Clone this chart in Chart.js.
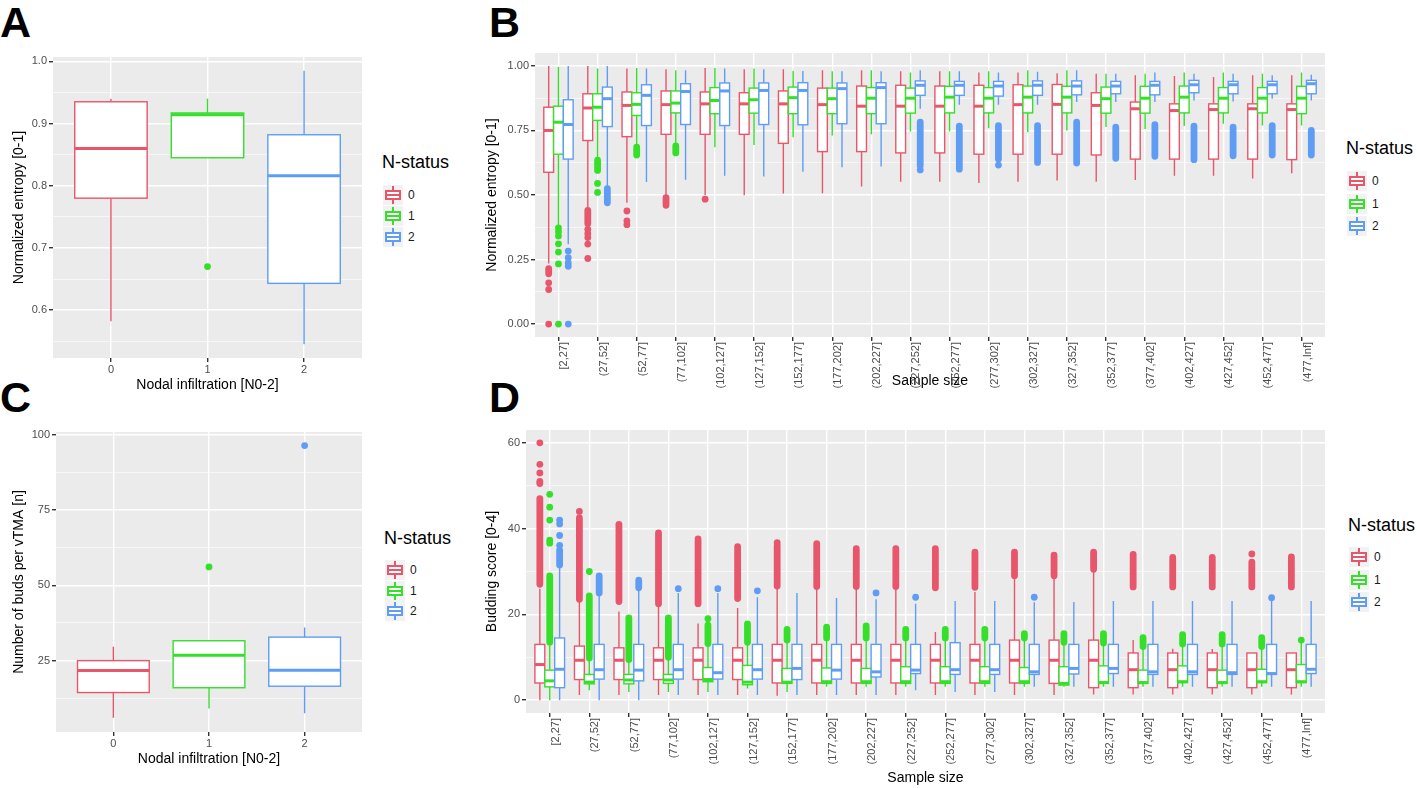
<!DOCTYPE html>
<html>
<head>
<meta charset="utf-8">
<script src="https://cdn.jsdelivr.net/npm/chart.js@4.4.1/dist/chart.umd.min.js"></script>
<style>
  html, body { margin: 0; padding: 0; background: #fff; }
  body { width: 1417px; height: 788px; position: relative; overflow: hidden; font-family: "Liberation Sans", Arial, sans-serif; }
  canvas { position: absolute; }
  .tag { position: absolute; font-weight: bold; font-size: 43px; line-height: 1; color: #000; }
  .ltitle { position: absolute; font-size: 18px; line-height: 22px; color: #000; white-space: nowrap; }
  .ltext { position: absolute; font-size: 12px; line-height: 20px; color: #1a1a1a; }
  .key { position: absolute; width: 20px; height: 20px; background: #F2F2F2; }
  .key .w { position: absolute; left: 9px; width: 2px; top: 1px; bottom: 1px; }
  .key .b { position: absolute; left: 2px; right: 2px; top: 5px; bottom: 5px; border: 2px solid; background: #fff; box-sizing: border-box; }
  .key .m { position: absolute; left: 2px; right: 2px; top: 9px; height: 2px; }
</style>
</head>
<body>
<div class="tag" style="left:0px;top:1px">A</div>
<div class="tag" style="left:489px;top:1px">B</div>
<div class="tag" style="left:0px;top:376px">C</div>
<div class="tag" style="left:489px;top:376px">D</div>

<canvas id="chartA" width="375" height="360" style="left:0px;top:40px"></canvas>
<canvas id="chartB" width="870" height="360" style="left:470px;top:40px"></canvas>
<canvas id="chartC" width="375" height="365" style="left:0px;top:420px"></canvas>
<canvas id="chartD" width="870" height="368" style="left:470px;top:420px"></canvas>

<script>
// ---- categories / groups
const statusLabels = ['0', '1', '2'];
const statusColors = ['#E8566C', '#35DF2A', '#5F9DF5'];
const nodalLabels = ['0', '1', '2'];
const sizeLabels = ['[2,27]', '(27,52]', '(52,77]', '(77,102]', '(102,127]', '(127,152]', '(152,177]',
  '(177,202]', '(202,227]', '(227,252]', '(252,277]', '(277,302]', '(302,327]', '(327,352]',
  '(352,377]', '(377,402]', '(402,427]', '(427,452]', '(452,477]', '(477,Inf]'];

// ---- tick labels
const entropyTicksA = [0.6, 0.7, 0.8, 0.9, 1.0];
const entropyTicksB = [0, 0.25, 0.5, 0.75, 1];
const budTicksC = [25, 50, 75, 100];
const scoreTicksD = [0, 20, 40, 60];

// box stats are [lower whisker, q1, median, q3, upper whisker]

// A: normalized entropy by nodal infiltration (one box per N-status)
const entropyNodal = [
  [0.582, 0.780, 0.860, 0.935, 0.940],
  [0.845, 0.845, 0.914, 0.917, 0.940],
  [0.545, 0.643, 0.816, 0.882, 0.985]
];
const entropyNodalOut = [[], [0.670], []];

// C: buds per vTMA by nodal infiltration
const budsNodal = [
  [6.0, 14.4, 21.7, 25.0, 29.6],
  [9.1, 16.0, 26.8, 31.6, 31.6],
  [7.5, 16.5, 21.8, 32.8, 36.0]
];
const budsNodalOut = [[], [56.1], [96.4]];

// B: normalized entropy by sample size, N-status 0 / 1 / 2
const entropySize0 = [
  [0.235, 0.588, 0.750, 0.840, 1.000], [0.445, 0.711, 0.837, 0.892, 1.000],
  [0.470, 0.726, 0.847, 0.899, 0.990], [0.497, 0.735, 0.850, 0.903, 0.987],
  [0.500, 0.735, 0.853, 0.899, 0.992], [0.499, 0.735, 0.853, 0.896, 0.987],
  [0.506, 0.700, 0.853, 0.903, 0.987], [0.507, 0.668, 0.850, 0.914, 0.983],
  [0.533, 0.668, 0.844, 0.922, 0.983], [0.551, 0.663, 0.844, 0.925, 0.979],
  [0.551, 0.663, 0.844, 0.922, 0.979], [0.546, 0.658, 0.844, 0.925, 0.974],
  [0.551, 0.658, 0.850, 0.927, 0.974], [0.556, 0.658, 0.851, 0.928, 0.972],
  [0.551, 0.655, 0.847, 0.896, 0.970], [0.558, 0.639, 0.834, 0.860, 0.964],
  [0.575, 0.639, 0.827, 0.853, 0.961], [0.575, 0.639, 0.831, 0.853, 0.957],
  [0.564, 0.639, 0.834, 0.853, 0.964], [0.584, 0.637, 0.831, 0.853, 0.964]
];
const entropySize1 = [
  [0.380, 0.658, 0.782, 0.844, 0.996], [0.640, 0.789, 0.840, 0.892, 0.990],
  [0.690, 0.808, 0.851, 0.896, 0.992], [0.698, 0.818, 0.856, 0.903, 0.983],
  [0.685, 0.815, 0.866, 0.916, 0.992], [0.694, 0.817, 0.869, 0.914, 0.990],
  [0.724, 0.815, 0.877, 0.918, 0.980], [0.730, 0.815, 0.873, 0.914, 0.979],
  [0.735, 0.815, 0.875, 0.916, 0.983], [0.746, 0.817, 0.875, 0.914, 0.974],
  [0.746, 0.818, 0.879, 0.921, 0.979], [0.759, 0.818, 0.875, 0.916, 0.979],
  [0.743, 0.818, 0.879, 0.922, 0.983], [0.750, 0.818, 0.879, 0.921, 0.983],
  [0.763, 0.817, 0.873, 0.918, 0.970], [0.756, 0.817, 0.875, 0.921, 0.970],
  [0.767, 0.818, 0.879, 0.922, 0.974], [0.776, 0.818, 0.875, 0.916, 0.974],
  [0.769, 0.818, 0.875, 0.916, 0.970], [0.769, 0.815, 0.875, 0.921, 0.974]
];
const entropySize2 = [
  [0.309, 0.639, 0.773, 0.869, 1.000], [0.535, 0.765, 0.873, 0.918, 1.000],
  [0.550, 0.769, 0.886, 0.927, 0.990], [0.559, 0.773, 0.901, 0.931, 0.983],
  [0.575, 0.769, 0.903, 0.934, 0.990], [0.572, 0.773, 0.905, 0.934, 0.987],
  [0.590, 0.772, 0.905, 0.935, 0.980], [0.607, 0.776, 0.912, 0.934, 0.979],
  [0.610, 0.776, 0.916, 0.935, 0.979], [0.834, 0.886, 0.925, 0.942, 0.983],
  [0.850, 0.886, 0.925, 0.940, 0.979], [0.850, 0.883, 0.922, 0.940, 0.974],
  [0.850, 0.886, 0.925, 0.942, 0.977], [0.860, 0.888, 0.922, 0.942, 0.983],
  [0.860, 0.892, 0.922, 0.940, 0.970], [0.860, 0.888, 0.925, 0.940, 0.974],
  [0.866, 0.896, 0.927, 0.944, 0.970], [0.862, 0.892, 0.927, 0.940, 0.970],
  [0.873, 0.892, 0.927, 0.940, 0.964], [0.866, 0.892, 0.931, 0.944, 0.966]
];
// single outliers per size bin
const entropyOut0 = [[0.160, 0.134, 0.0], [0.367, 0.350, 0.335, 0.310, 0.254], [0.438, 0.400, 0.385], [], [0.484],
  [], [], [], [], [], [], [], [], [], [], [], [], [], [], []];
const entropyOut1 = [[0.373, 0.358, 0.341, 0.311, 0.279, 0.233, 0.0], [0.545, 0.510], [], [], [],
  [], [], [], [], [], [], [], [], [], [], [], [], [], [], []];
const entropyOut2 = [[0.283, 0.257, 0.237, 0.224, 0.0], [], [], [], [], [], [], [], [], [0.597],
  [], [0.616], [], [], [], [], [], [], [], []];
// dense runs of outliers [from, to] per size bin
const entropyRun0 = [[0.195, 0.215], [0.390, 0.440], null, [0.460, 0.490], null, null, null, null, null, null,
  null, null, null, null, null, null, null, null, null, null];
const entropyRun1 = [null, [0.595, 0.635], [0.655, 0.685], [0.663, 0.690], null, null, null, null, null, null,
  null, null, null, null, null, null, null, null, null, null];
const entropyRun2 = [null, [0.470, 0.525], null, null, null, null, null, null, null, [0.613, 0.782],
  [0.600, 0.767], [0.639, 0.769], [0.626, 0.769], [0.624, 0.782], [0.642, 0.763], [0.650, 0.772],
  [0.637, 0.767], [0.652, 0.763], [0.655, 0.769], [0.655, 0.750]];

// D: budding score by sample size, N-status 0 / 1 / 2
const scoreSize0 = [
  [0.0, 4.0, 8.3, 13.0, 26.0], [1.2, 4.8, 9.3, 12.6, 23.3], [1.2, 4.8, 9.3, 12.2, 20.7],
  [1.2, 4.8, 9.3, 12.2, 22.1], [1.2, 4.8, 9.3, 12.2, 17.9], [1.2, 4.8, 9.3, 12.2, 21.5],
  [1.0, 4.0, 9.3, 13.0, 26.4], [1.2, 4.0, 9.3, 13.0, 26.4], [1.2, 4.0, 9.3, 13.0, 26.4],
  [1.2, 4.0, 9.3, 13.0, 26.4], [1.2, 4.0, 9.3, 13.0, 15.9], [1.2, 4.0, 9.3, 13.0, 25.2],
  [1.2, 4.0, 9.3, 14.0, 28.7], [1.2, 3.9, 9.3, 14.0, 28.7], [1.3, 2.9, 9.3, 14.0, 30.3],
  [1.3, 2.9, 7.1, 11.0, 14.0], [1.3, 2.9, 7.1, 11.0, 12.0], [1.3, 2.9, 7.1, 11.0, 11.9],
  [1.3, 2.9, 7.1, 11.0, 11.0], [1.3, 2.9, 7.1, 11.0, 11.0]
];
const scoreSize1 = [
  [0.0, 3.1, 4.5, 7.0, 12.8], [2.3, 3.8, 4.2, 6.0, 9.7], [1.9, 3.8, 4.7, 6.0, 8.9],
  [1.9, 3.9, 4.7, 6.0, 9.7], [1.9, 4.3, 4.8, 7.6, 12.8], [2.7, 3.6, 4.2, 8.1, 13.0],
  [1.9, 3.9, 4.2, 7.4, 14.0], [3.1, 3.9, 4.3, 7.5, 14.4], [3.1, 3.9, 4.3, 7.4, 14.4],
  [3.1, 3.9, 4.3, 7.8, 14.4], [3.1, 3.9, 4.3, 7.8, 14.4], [3.1, 3.9, 4.3, 7.8, 14.4],
  [3.1, 3.9, 4.3, 7.6, 14.4], [3.1, 3.5, 3.9, 7.8, 13.2], [3.1, 3.9, 4.1, 8.0, 13.2],
  [3.1, 3.9, 4.1, 7.0, 12.4], [3.1, 4.1, 4.3, 8.0, 13.0], [3.1, 3.9, 4.1, 7.0, 13.0],
  [3.1, 4.1, 4.3, 7.2, 12.4], [3.1, 4.1, 4.3, 8.3, 13.6]
];
const scoreSize2 = [
  [0.0, 2.9, 7.2, 14.5, 31.0], [0.0, 4.9, 7.1, 13.0, 24.8], [0.0, 4.5, 7.0, 13.0, 26.0],
  [1.2, 4.9, 7.1, 13.0, 25.0], [1.2, 4.9, 6.4, 13.0, 25.0], [1.2, 4.9, 7.1, 13.0, 24.0],
  [1.2, 4.8, 7.4, 13.0, 25.0], [1.2, 4.9, 7.0, 13.0, 23.8], [1.2, 5.4, 6.6, 13.0, 23.5],
  [2.3, 6.2, 7.0, 13.0, 22.5], [1.9, 6.0, 7.1, 13.4, 23.1], [1.9, 6.0, 7.1, 13.0, 23.1],
  [3.1, 6.0, 6.6, 13.0, 22.8], [3.1, 6.1, 7.4, 13.0, 22.9], [3.1, 6.2, 7.4, 13.0, 23.1],
  [3.1, 6.0, 6.6, 13.0, 23.1], [3.1, 6.0, 6.6, 13.0, 23.1], [3.1, 6.0, 6.4, 13.0, 23.1],
  [3.1, 6.0, 6.2, 13.0, 23.1], [3.1, 6.2, 7.2, 13.0, 23.1]
];
const scoreOut0 = [[60, 55, 53, 51, 50.5], [44], [41], [], [37.6], [], [36.7], [], [], [],
  [], [], [], [], [], [], [], [], [34.1], []];
const scoreOut1 = [[48, 45, 42, 37.3, 36.6], [30], [], [], [19], [], [], [], [], [],
  [], [], [], [], [], [], [], [], [], [14]];
const scoreOut2 = [[42, 41.1, 38.4, 36.1], [], [], [26], [26], [25.5], [], [], [25], [24],
  [], [], [24], [], [], [], [], [], [23.9], []];
const scoreRun0 = [[27, 47], [23.5, 42.5], [23, 40.5], [22.5, 39], [22.5, 37], [23.7, 35.8], [26.6, 36],
  [26.5, 36.5], [26.5, 35.3], [26.5, 35.3], [26.2, 35.3], [26.3, 34.5], [29, 34.5], [29, 33.8],
  [30.5, 34.5], [26.4, 34], [26.4, 33.3], [26.4, 33.3], [26.4, 32.2], [26.4, 33.4]];
const scoreRun1 = [[13.5, 29], [9.8, 24.3], [9.5, 19.2], [10, 19.2], [13.2, 17.5], [13.5, 17.8], [14, 16.5],
  [14.5, 17], [14.5, 17.3], [14.5, 16.5], [14.5, 16.5], [14.5, 16.5], [14.5, 15.5], [13.5, 15.5],
  [13.3, 15.5], [12.5, 14.6], [13.1, 15.3], [13.1, 15.3], [12.5, 14.6], null];
const scoreRun2 = [[31.5, 35], [25, 29], [26.2, 28], null, null, null, null, null, null, null,
  null, null, null, null, null, null, null, null, null, null];

Chart.defaults.font.family = '"Liberation Sans", Arial, sans-serif';

// grey panel behind the plot area
const panelBg = {
  id: 'panelBg',
  beforeDraw(chart) {
    const { ctx, chartArea: a } = chart;
    ctx.save();
    ctx.fillStyle = '#EBEBEB';
    ctx.fillRect(a.left, a.top, a.right - a.left, a.bottom - a.top);
    ctx.restore();
  }
};

// boxes + whiskers drawn through the chart's own scales
function boxPlugin(boxes) {
  return {
    id: 'boxes',
    beforeDatasetsDraw(chart) {
      const { ctx, scales: { x, y } } = chart;
      ctx.save();
      boxes.forEach(b => {
        const [lo, q1, med, q3, hi] = b.stats;
        const xl = x.getPixelForValue(b.x - b.w / 2);
        const xr = x.getPixelForValue(b.x + b.w / 2);
        const xc = x.getPixelForValue(b.x);
        ctx.strokeStyle = b.color;
        ctx.lineWidth = 1.4;
        ctx.beginPath();
        ctx.moveTo(xc, y.getPixelForValue(hi));
        ctx.lineTo(xc, y.getPixelForValue(q3));
        ctx.moveTo(xc, y.getPixelForValue(q1));
        ctx.lineTo(xc, y.getPixelForValue(lo));
        ctx.stroke();
        const top = y.getPixelForValue(q3), bot = y.getPixelForValue(q1);
        ctx.fillStyle = '#fff';
        ctx.fillRect(xl, top, xr - xl, bot - top);
        ctx.strokeRect(xl, top, xr - xl, bot - top);
        ctx.lineWidth = 3;
        ctx.beginPath();
        ctx.moveTo(xl, y.getPixelForValue(med));
        ctx.lineTo(xr, y.getPixelForValue(med));
        ctx.stroke();
      });
      ctx.restore();
    }
  };
}

function minorTicks(major, min, max) {
  const step = major[1] - major[0];
  const out = [major[0] - step / 2];
  major.forEach(v => out.push(v + step / 2));
  return out.filter(v => v > min && v < max);
}

function buildPanel(p) {
  const boxes = [];
  const datasets = [];
  p.groups.forEach((g, s) => {
    const pts = [], run = [];
    g.stats.forEach((st, i) => {
      if (!st) return;
      const cx = g.xs ? g.xs[i] : i + g.offset;
      boxes.push({ x: cx, w: p.boxW, stats: st, color: statusColors[s] });
      (g.outs[i] || []).forEach(v => pts.push({ x: cx, y: v }));
      const r = g.runs ? g.runs[i] : null;
      if (r) run.push({ x: cx, y: r[0] }, { x: cx, y: r[1] }, { x: cx, y: null });
    });
    datasets.push({
      data: run, showLine: true, borderColor: statusColors[s], borderWidth: 6.8,
      borderCapStyle: 'round', pointRadius: 0, tension: 0, spanGaps: false
    });
    datasets.push({
      data: pts, showLine: false, pointRadius: 3.4, pointBorderWidth: 0,
      pointBackgroundColor: statusColors[s], backgroundColor: statusColors[s]
    });
  });
  datasets.reverse();

  const minor = minorTicks(p.yTicks, p.yMin, p.yMax);
  const isMajor = v => p.yTicks.some(t => Math.abs(t - v) < 1e-9);

  return new Chart(document.getElementById(p.id), {
    type: 'scatter',
    data: { datasets },
    options: {
      responsive: false,
      animation: false,
      events: [],
      layout: { padding: { top: p.padTop, right: p.padRight, bottom: 0, left: 0 } },
      plugins: { legend: { display: false }, tooltip: { enabled: false } },
      scales: {
        x: {
          type: 'linear',
          min: -0.6,
          max: p.cats.length - 0.4,
          afterBuildTicks: s => { s.ticks = p.cats.map((c, i) => ({ value: i })); },
          afterFit: s => { s.height = p.xH; },
          border: { display: false },
          grid: { color: '#ffffff', lineWidth: 1.4, tickColor: '#333333', tickLength: 4 },
          ticks: {
            callback: v => p.cats[Math.round(v)],
            color: '#4D4D4D', font: { size: 11 }, autoSkip: false,
            minRotation: p.rotate ? 90 : 0, maxRotation: p.rotate ? 90 : 0,
            padding: 1, labelOffset: p.rotate ? 6 : 0
          },
          title: {
            display: true, text: p.xTitle, color: '#000',
            font: { size: 14, lineHeight: 1.2 }, padding: { top: 0, bottom: p.xTitlePad }
          }
        },
        y: {
          min: p.yMin,
          max: p.yMax,
          afterBuildTicks: s => {
            s.ticks = p.yTicks.concat(minor).sort((a, b) => a - b).map(v => ({ value: v }));
          },
          afterFit: s => { s.width = p.yW; },
          border: { display: false },
          grid: {
            color: c => isMajor(c.tick.value) ? '#ffffff' : 'rgba(255,255,255,0.85)',
            lineWidth: c => isMajor(c.tick.value) ? 1.4 : 0.7,
            tickColor: c => isMajor(c.tick.value) ? '#333333' : 'rgba(0,0,0,0)',
            tickLength: 4
          },
          ticks: {
            callback: v => isMajor(v) ? p.yFmt(v) : '',
            color: '#4D4D4D', font: { size: 11 }, padding: 2
          },
          title: {
            display: true, text: p.yTitle, color: '#000',
            font: { size: 14, lineHeight: 1.2 }, padding: { top: p.yTitlePad, bottom: 0 }
          }
        }
      }
    },
    plugins: [panelBg, boxPlugin(boxes)]
  });
}

const dodge = [-0.25, 0, 0.25];

buildPanel({
  id: 'chartA', cats: nodalLabels, boxW: 0.75, rotate: false,
  groups: entropyNodal.map((st, s) => ({ stats: [st], xs: [s], outs: [entropyNodalOut[s]] })),
  yMin: 0.523, yMax: 1.007, yTicks: entropyTicksA, yFmt: v => v.toFixed(1),
  xTitle: 'Nodal infiltration [N0-2]', yTitle: 'Normalized entropy [0-1]',
  yW: 53, xH: 42, padTop: 17, padRight: 13, yTitlePad: 11, xTitlePad: 6
});

buildPanel({
  id: 'chartB', cats: sizeLabels, boxW: 0.25, rotate: true,
  groups: [
    { stats: entropySize0, offset: dodge[0], outs: entropyOut0, runs: entropyRun0 },
    { stats: entropySize1, offset: dodge[1], outs: entropyOut1, runs: entropyRun1 },
    { stats: entropySize2, offset: dodge[2], outs: entropyOut2, runs: entropyRun2 }
  ],
  yMin: -0.05, yMax: 1.05, yTicks: entropyTicksB, yFmt: v => v.toFixed(2),
  xTitle: 'Sample size', yTitle: 'Normalized entropy [0-1]',
  yW: 65, xH: 63, padTop: 13, padRight: 15, yTitlePad: 14, xTitlePad: 10
});

buildPanel({
  id: 'chartC', cats: nodalLabels, boxW: 0.75, rotate: false,
  groups: budsNodal.map((st, s) => ({ stats: [st], xs: [s], outs: [budsNodalOut[s]] })),
  yMin: 1.3, yMax: 100.9, yTicks: budTicksC, yFmt: v => String(v),
  xTitle: 'Nodal infiltration [N0-2]', yTitle: 'Number of buds per vTMA [n]',
  yW: 56, xH: 53, padTop: 12, padRight: 13, yTitlePad: 11, xTitlePad: 17
});

buildPanel({
  id: 'chartD', cats: sizeLabels, boxW: 0.25, rotate: true,
  groups: [
    { stats: scoreSize0, offset: dodge[0], outs: scoreOut0, runs: scoreRun0 },
    { stats: scoreSize1, offset: dodge[1], outs: scoreOut1, runs: scoreRun1 },
    { stats: scoreSize2, offset: dodge[2], outs: scoreOut2, runs: scoreRun2 }
  ],
  yMin: -3, yMax: 63, yTicks: scoreTicksD, yFmt: v => String(v),
  xTitle: 'Sample size', yTitle: 'Budding score [0-4]',
  yW: 56, xH: 75, padTop: 10, padRight: 15, yTitlePad: 14, xTitlePad: 1
});

// ggplot-style legends
const legendSpots = [
  { left: 382, top: 151, keyTop: 185, step: 21 },
  { left: 1346, top: 137, keyTop: 171, step: 22.5 },
  { left: 384, top: 527, keyTop: 560, step: 20.5 },
  { left: 1348, top: 514, keyTop: 547, step: 22.5 }
];
legendSpots.forEach(spot => {
  const t = document.createElement('div');
  t.className = 'ltitle';
  t.style.left = spot.left + 'px';
  t.style.top = spot.top + 'px';
  t.textContent = 'N-status';
  document.body.appendChild(t);
  statusLabels.forEach((lab, i) => {
    const c = statusColors[i];
    const top = spot.keyTop + i * spot.step;
    const k = document.createElement('div');
    k.className = 'key';
    k.style.left = (spot.left + 1) + 'px';
    k.style.top = top + 'px';
    k.innerHTML = '<div class="w" style="background:' + c + '"></div>' +
      '<div class="b" style="border-color:' + c + '"></div>' +
      '<div class="m" style="background:' + c + '"></div>';
    document.body.appendChild(k);
    const l = document.createElement('div');
    l.className = 'ltext';
    l.style.left = (spot.left + 26) + 'px';
    l.style.top = top + 'px';
    l.textContent = lab;
    document.body.appendChild(l);
  });
});
</script>
</body>
</html>
